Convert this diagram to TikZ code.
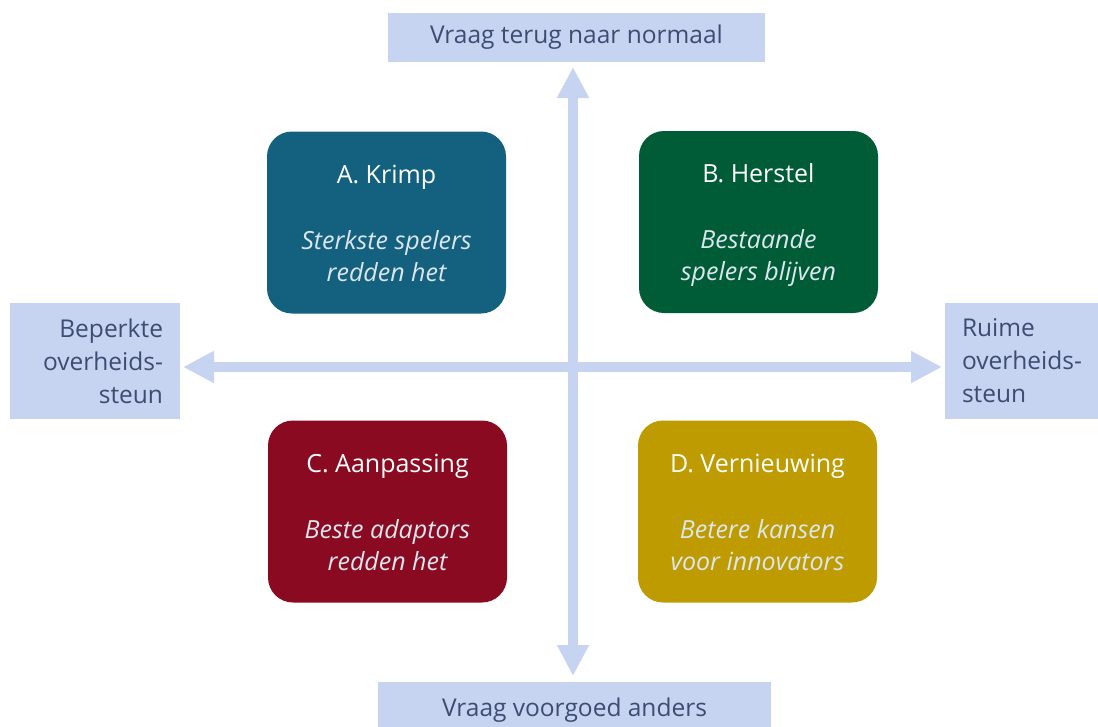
\documentclass[tikz,border=0pt]{standalone}
\usepackage{fontspec}
\setmainfont{Open Sans}
\usetikzlibrary{arrows.meta}
\definecolor{axisfill}{HTML}{C6D4F1}
\definecolor{axistext}{HTML}{3E4C73}
\definecolor{colA}{HTML}{13607F}
\definecolor{colB}{HTML}{005C37}
\definecolor{colC}{HTML}{8A0A22}
\definecolor{colD}{HTML}{BE9B00}
\definecolor{subtext}{HTML}{DCE6EE}
\tikzset{
  axisbox/.style={fill=axisfill, inner sep=0pt, text=axistext, font=\fontsize{24.5}{33}\selectfont},
  axislabel/.style={inner sep=0pt, text=axistext, font=\fontsize{24.5}{33}\selectfont},
  quadbox/.style={rounded corners=25pt, minimum width=239pt, minimum height=182pt, inner sep=0pt},
  quadtitle/.style={text=white, font=\fontsize{25}{28}\selectfont, text height=18pt, text depth=6pt, inner sep=0pt},
  quadsub/.style={text=subtext, font=\fontsize{25}{32}\selectfont\itshape, align=center, anchor=base},
  axisarrow/.style={draw=axisfill, line width=10pt, {Triangle[width=30pt,length=31pt]}-{Triangle[width=30pt,length=31pt]}}
}
\begin{document}
\begin{tikzpicture}[x=1pt,y=-1pt]
\useasboundingbox (0,0) rectangle (1098,726);
\clip (0,0) rectangle (1098,726);
% axis label boxes
\node[axisbox, minimum width=377pt, minimum height=49pt] (top) at (576.5,37.5) {Vraag terug naar normaal};
\node[axisbox, minimum width=393pt, minimum height=56pt] (bottom) at (574.5,710) {Vraag voorgoed anders};
\node[axisbox, minimum width=170pt, minimum height=116pt] (left) at (95,361) {};
\node[axisbox, minimum width=153pt, minimum height=116pt] (right) at (1021.5,361) {};
\node[axislabel, align=right, anchor=east] (lefttxt) at ([xshift=-17pt]left.east) {Beperkte\\overheids-\\steun};
\node[axislabel, align=left, anchor=west] (righttxt) at ([xshift=17pt]right.west) {Ruime\\overheids-\\steun};
% arrow end points
\coordinate (c) at (573,367);
\coordinate (vtop) at (573,67);
\coordinate (vbot) at (573,676);
\coordinate (hleft) at (183,367);
\coordinate (hright) at (942,367);
\draw[axisarrow] (vtop) -- (vbot);
\draw[axisarrow] (hleft) -- (hright);
% quadrants
\node[quadbox, fill=colA] (A) at (386.5,222.5) {};
\node[quadbox, fill=colB] (B) at (758.5,222) {};
\node[quadbox, fill=colC] (C) at (387.5,511.5) {};
\node[quadbox, fill=colD] (D) at (757.5,511.5) {};
\node[quadtitle] (At) at ([yshift=-46pt]A.north) {A. Krimp};
\node[quadtitle] (Bt) at ([yshift=-46pt]B.north) {B. Herstel};
\node[quadtitle] (Ct) at ([yshift=-46pt]C.north) {C. Aanpassing};
\node[quadtitle] (Dt) at ([yshift=-46pt]D.north) {D. Vernieuwing};
\node[quadsub] (As) at ([yshift=-150pt]A.north) {Sterkste spelers\\redden het};
\node[quadsub] (Bs) at ([yshift=-150pt]B.north) {Bestaande\\spelers blijven};
\node[quadsub] (Cs) at ([yshift=-150pt]C.north) {Beste adaptors\\redden het};
\node[quadsub] (Ds) at ([yshift=-150pt]D.north) {Betere kansen\\voor innovators};
\end{tikzpicture}
\end{document}
